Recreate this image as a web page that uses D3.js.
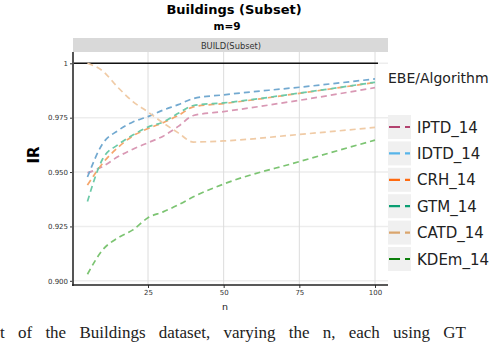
<!DOCTYPE html>
<html>
<head>
<meta charset="utf-8">
<script src="https://cdn.jsdelivr.net/npm/d3@7"></script>
<style>
  body { margin: 0; background: #fff; }
  svg { display: block; }
  .tick text { font-family: "DejaVu Sans", sans-serif; font-size: 7px; fill: #333; }
  .tick line { stroke: #333; }
</style>
</head>
<body>
<div id="chart"></div>
<script>
// data
var nVals = [5, 10, 15, 20, 25, 30, 35, 40, 50, 75, 100];
var iptd = [0.9496, 0.9525, 0.9570, 0.9605, 0.9635, 0.9665, 0.9710, 0.9760, 0.9778, 0.9830, 0.9888];
var idtd = [0.9477, 0.9630, 0.9690, 0.9730, 0.9755, 0.9785, 0.9810, 0.9838, 0.9855, 0.9890, 0.9928];
var crh  = [0.9440, 0.9540, 0.9612, 0.9666, 0.9700, 0.9727, 0.9760, 0.9800, 0.9815, 0.9862, 0.9912];
var gtm  = [0.9365, 0.9560, 0.9625, 0.9670, 0.9707, 0.9730, 0.9770, 0.9806, 0.9818, 0.9863, 0.9913];
var catd = [1.0000, 0.9965, 0.9890, 0.9824, 0.9776, 0.9726, 0.9680, 0.9638, 0.9643, 0.9673, 0.9705];
var kdem = [0.9030, 0.9142, 0.9197, 0.9234, 0.9290, 0.9317, 0.9349, 0.9386, 0.9445, 0.9548, 0.9647];

var seriesNames = ["IPTD_14", "IDTD_14", "CRH_14", "GTM_14", "CATD_14", "KDEm_14"];
var seriesValues = [iptd, idtd, crh, gtm, catd, kdem];
var lineColors = ["#d998b4", "#72a9d0", "#f5a66c", "#6ccaa8", "#f0cba6", "#7cc472"];
var keyColors = ["#b2426f", "#56b4e9", "#ff6a10", "#0a9e72", "#daa56d", "#0b7f0b"];

var xTicks = [25, 50, 75, 100];
var yTicks = [0.900, 0.925, 0.950, 0.975, 1];

var width = 490, height = 342;
var panel = {left: 73, right: 388, top: 52, bottom: 285};

var svg = d3.select("#chart").append("svg")
	.attr("width", width)
	.attr("height", height);

var x = d3.scaleLinear().domain([25, 100]).range([148, 375]);
var y = d3.scaleLinear().domain([0.9, 1]).range([280.8, 63.3]);

// titles
svg.append("text")
	.attr("x", 234).attr("y", 14)
	.attr("text-anchor", "middle")
	.style("font-family", "'DejaVu Sans', sans-serif")
	.style("font-weight", "bold")
	.style("font-size", "13px")
	.text("Buildings (Subset)");
svg.append("text")
	.attr("x", 227).attr("y", 29.5)
	.attr("text-anchor", "middle")
	.style("font-family", "'DejaVu Sans', sans-serif")
	.style("font-weight", "bold")
	.style("font-size", "10.5px")
	.text("m=9");

// strip
svg.append("rect")
	.attr("x", panel.left).attr("y", 38)
	.attr("width", panel.right - panel.left).attr("height", panel.top - 38)
	.attr("fill", "#d9d9d9");
svg.append("text")
	.attr("x", 231).attr("y", 48.5)
	.attr("text-anchor", "middle")
	.style("font-family", "'DejaVu Sans', sans-serif")
	.style("font-size", "8.3px")
	.style("fill", "#333")
	.text("BUILD(Subset)");

// grid
svg.append("g").selectAll("line")
	.data(yTicks)
	.enter().append("line")
	.attr("x1", panel.left).attr("x2", panel.right)
	.attr("y1", d => y(d)).attr("y2", d => y(d))
	.attr("stroke", "#ededed")
	.attr("stroke-width", 1.5);
svg.append("g").selectAll("line")
	.data(xTicks)
	.enter().append("line")
	.attr("x1", d => x(d)).attr("x2", d => x(d))
	.attr("y1", panel.top).attr("y2", panel.bottom)
	.attr("stroke", "#dcdcdc")
	.attr("stroke-width", 1);

// reference line at 1
svg.append("line")
	.attr("x1", panel.left).attr("x2", 378)
	.attr("y1", y(1)).attr("y2", y(1))
	.attr("stroke", "#111")
	.attr("stroke-width", 1.6);

// series
var line = d3.line()
	.x((d, i) => x(nVals[i]))
	.y(d => y(d))
	.curve(d3.curveMonotoneX);

svg.append("g").selectAll("path")
	.data(seriesValues)
	.enter().append("path")
	.attr("d", line)
	.attr("fill", "none")
	.attr("stroke", (d, i) => lineColors[i])
	.attr("stroke-width", 1.7)
	.attr("stroke-dasharray", "6,4");

// axes
var yAxis = svg.append("g")
	.attr("transform", "translate(" + panel.left + ",0)")
	.call(d3.axisLeft(y).tickValues(yTicks).tickSize(3).tickPadding(2)
		.tickFormat(d => d === 1 ? "1" : d3.format(".3f")(d)));
yAxis.select(".domain").remove();

var xAxis = svg.append("g")
	.attr("transform", "translate(0," + panel.bottom + ")")
	.call(d3.axisBottom(x).tickValues(xTicks).tickSize(3).tickPadding(2));
xAxis.select(".domain").remove();

svg.append("line")
	.attr("x1", panel.left).attr("x2", panel.left)
	.attr("y1", panel.top).attr("y2", panel.bottom + 1)
	.attr("stroke", "#555")
	.attr("stroke-width", 2);
svg.append("line")
	.attr("x1", panel.left - 1).attr("x2", panel.right)
	.attr("y1", panel.bottom).attr("y2", panel.bottom)
	.attr("stroke", "#222")
	.attr("stroke-width", 1.3);

// axis titles
svg.append("text")
	.attr("transform", "translate(39,155) rotate(-90)")
	.attr("text-anchor", "middle")
	.style("font-family", "'DejaVu Sans', sans-serif")
	.style("font-weight", "bold")
	.style("font-size", "15px")
	.text("IR");
svg.append("text")
	.attr("x", 225).attr("y", 310)
	.attr("text-anchor", "middle")
	.style("font-family", "'DejaVu Sans', sans-serif")
	.style("font-size", "9.5px")
	.style("fill", "#222")
	.text("n");

// legend
svg.append("text")
	.attr("x", 388).attr("y", 82.5)
	.style("font-family", "'DejaVu Sans', sans-serif")
	.style("font-size", "14px")
	.style("fill", "#222")
	.text("EBE/Algorithm");

var legend = svg.append("g").selectAll("g")
	.data(seriesNames)
	.enter().append("g")
	.attr("transform", (d, i) => "translate(388," + (127 + i * 26.4) + ")");
legend.append("rect")
	.attr("x", 0).attr("y", -12)
	.attr("width", 23).attr("height", 24)
	.attr("fill", "#f0f0f0");
legend.append("line")
	.attr("x1", 1).attr("x2", 22)
	.attr("y1", 0).attr("y2", 0)
	.attr("stroke", (d, i) => keyColors[i])
	.attr("stroke-width", 2.2)
	.attr("stroke-dasharray", "11,5");
legend.append("text")
	.attr("x", 29).attr("y", 5.5)
	.style("font-family", "'DejaVu Sans', sans-serif")
	.style("font-size", "15px")
	.style("fill", "#222")
	.text(d => d);

// caption fragment below the figure
svg.append("text")
	.attr("x", 0).attr("y", 338)
	.style("font-family", "'Liberation Serif', serif")
	.style("font-size", "17px")
	.style("word-spacing", "9px")
	.style("fill", "#222")
	.text("t of the Buildings dataset, varying the n, each using GT");
</script>
</body>
</html>
